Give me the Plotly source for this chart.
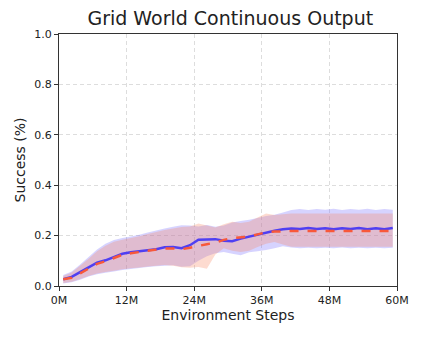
import plotly.graph_objects as go

BLUE = "#4f3ff2"
RED = "#f8583a"
BLUE_FILL = "rgba(120,110,255,0.30)"
RED_FILL = "rgba(248,135,100,0.30)"
FONT = "DejaVu Sans"

# environment steps in millions
steps = [0.75, 2.25, 3.75, 5.25, 6.75, 8.25, 9.75, 11.25, 12.75, 14.25,
         15.75, 17.25, 18.75, 20.25, 21.75, 23.25, 24.75, 26.25, 27.75, 29.25,
         30.75, 32.25, 33.75, 35.25, 36.75, 38.25, 39.75, 41.25, 42.75, 44.25,
         45.75, 47.25, 48.75, 50.25, 51.75, 53.25, 54.75, 56.25, 57.75, 59.25]

blue_mean = [0.027, 0.036, 0.055, 0.075, 0.093, 0.102, 0.115, 0.128, 0.134, 0.137,
             0.142, 0.146, 0.154, 0.155, 0.150, 0.162, 0.184, 0.185, 0.186, 0.180,
             0.178, 0.188, 0.196, 0.203, 0.213, 0.219, 0.225, 0.228, 0.226, 0.230,
             0.226, 0.229, 0.225, 0.229, 0.226, 0.230, 0.225, 0.229, 0.225, 0.230]
blue_upper = [0.044, 0.058, 0.085, 0.115, 0.145, 0.168, 0.183, 0.190, 0.196, 0.203,
              0.212, 0.220, 0.228, 0.235, 0.241, 0.240, 0.236, 0.242, 0.235, 0.240,
              0.252, 0.258, 0.263, 0.270, 0.278, 0.283, 0.292, 0.302, 0.306, 0.302,
              0.306, 0.303, 0.307, 0.302, 0.306, 0.303, 0.307, 0.302, 0.306, 0.303]
blue_lower = [0.010, 0.015, 0.025, 0.038, 0.047, 0.053, 0.058, 0.063, 0.067, 0.071,
              0.075, 0.078, 0.080, 0.082, 0.076, 0.078, 0.100, 0.118, 0.130, 0.135,
              0.128, 0.122, 0.134, 0.138, 0.143, 0.150, 0.158, 0.153, 0.150, 0.152,
              0.150, 0.152, 0.150, 0.153, 0.150, 0.152, 0.150, 0.152, 0.150, 0.152]

red_mean = [0.027, 0.033, 0.050, 0.070, 0.088, 0.098, 0.112, 0.124, 0.130, 0.134,
            0.139, 0.143, 0.149, 0.149, 0.146, 0.152, 0.160, 0.166, 0.172, 0.183,
            0.190, 0.192, 0.196, 0.205, 0.213, 0.216, 0.218, 0.218, 0.218, 0.217,
            0.218, 0.218, 0.217, 0.218, 0.218, 0.217, 0.218, 0.218, 0.217, 0.218]
red_upper = [0.040, 0.054, 0.080, 0.108, 0.138, 0.160, 0.176, 0.184, 0.190, 0.197,
             0.206, 0.214, 0.222, 0.228, 0.234, 0.236, 0.248, 0.240, 0.232, 0.245,
             0.255, 0.250, 0.255, 0.272, 0.288, 0.282, 0.285, 0.288, 0.288, 0.288,
             0.288, 0.288, 0.288, 0.288, 0.288, 0.288, 0.288, 0.288, 0.288, 0.288]
red_lower = [0.012, 0.017, 0.028, 0.040, 0.050, 0.056, 0.061, 0.066, 0.070, 0.073,
             0.077, 0.080, 0.083, 0.080, 0.074, 0.072, 0.075, 0.068, 0.125, 0.150,
             0.140, 0.135, 0.140, 0.155, 0.168, 0.175, 0.165, 0.156, 0.156, 0.156,
             0.156, 0.156, 0.156, 0.156, 0.156, 0.156, 0.156, 0.156, 0.156, 0.156]

x_ticks = [0, 12, 24, 36, 48, 60]
x_labels = ["0M", "12M", "24M", "36M", "48M", "60M"]
y_ticks = [0.0, 0.2, 0.4, 0.6, 0.8, 1.0]

fig = go.Figure()


def add_band(upper, lower, fill):
    fig.add_trace(go.Scatter(x=steps + steps[::-1], y=upper + lower[::-1],
                             fill="toself", fillcolor=fill, mode="none",
                             hoverinfo="skip", showlegend=False))


add_band(blue_upper, blue_lower, BLUE_FILL)
add_band(red_upper, red_lower, RED_FILL)
fig.add_trace(go.Scatter(x=steps, y=blue_mean, mode="lines",
                         line=dict(color=BLUE, width=2.5), showlegend=False))
fig.add_trace(go.Scatter(x=steps, y=red_mean, mode="lines",
                         line=dict(color=RED, width=2.5, dash="dash"), showlegend=False))

axis_style = dict(showline=True, linecolor="#333", linewidth=1, mirror=True,
                  ticks="outside", ticklen=4, tickcolor="#333",
                  showgrid=True, gridcolor="#dddddd", griddash="4px,3px", gridwidth=1,
                  zeroline=False, tickfont=dict(family=FONT, size=11, color="#222"))

fig.update_xaxes(range=[0, 60], tickvals=x_ticks, ticktext=x_labels,
                 title=dict(text="Environment Steps", font=dict(family=FONT, size=14, color="#222"),
                            standoff=3),
                 **axis_style)
fig.update_yaxes(range=[0, 1], tickvals=y_ticks, tickformat=".1f",
                 title=dict(text="Success (%)", font=dict(family=FONT, size=14, color="#222"),
                            standoff=5),
                 **axis_style)

# the page adds an 8px body margin, so the figure is sized to fit inside it
fig.update_layout(
    width=414, height=330,
    margin=dict(l=51, r=25, t=26, b=52),
    paper_bgcolor="white", plot_bgcolor="white",
    title=dict(text="Grid World Continuous Output", x=0.537, xanchor="center",
               y=0.99, yanchor="top", font=dict(family=FONT, size=19, color="#222")),
)

fig.write_html("out.html")
